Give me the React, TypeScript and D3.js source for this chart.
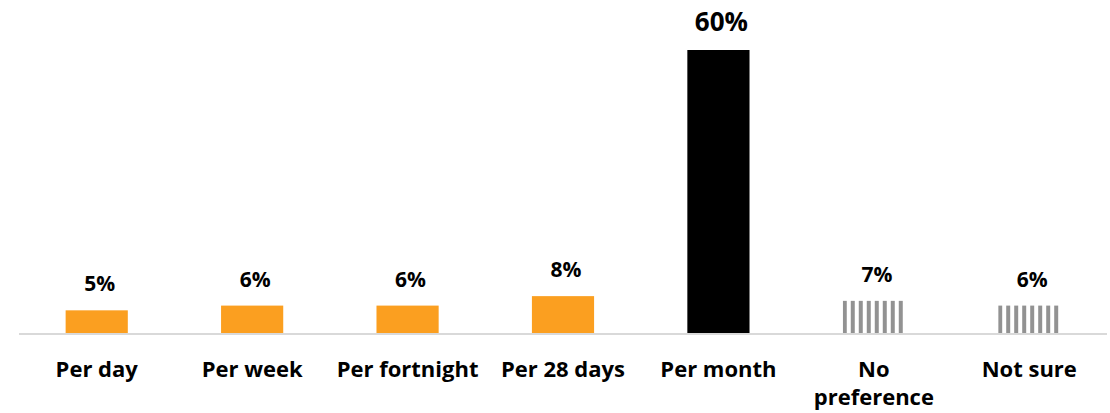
import React from "react";
import * as d3 from "d3";

const categories = ["Per day", "Per week", "Per fortnight", "Per 28 days", "Per month", "No\npreference", "Not sure"];
const values = [5, 6, 6, 8, 60, 7, 6];
const kinds = ["orange", "orange", "orange", "orange", "black", "striped", "striped"];

const W = 1110;
const H = 413;
const FONT = "'Open Sans', Lato, sans-serif";

export default function App() {
  const x = d3.scaleBand<string>().domain(categories).range([19, 1107]).paddingInner(0.6).paddingOuter(0.3);
  const y = d3.scaleLinear().domain([0, 60]).range([334, 50]);
  const bw = x.bandwidth();

  return (
    <svg width={W} height={H} style={{ position: "absolute", left: 0, top: 0, background: "#fff" }}>
      <defs>
        {categories.map((c, i) =>
          kinds[i] === "striped" ? (
            <pattern key={c} id={`stripe${i}`} patternUnits="userSpaceOnUse" x={x(c)} y={0} width={8} height={8}>
              <rect x={0} y={0} width={4} height={8} fill="#929292" />
            </pattern>
          ) : null
        )}
      </defs>
      {categories.map((c, i) => {
        const x0 = x(c) as number;
        const fill = kinds[i] === "orange" ? "#FB9F20" : kinds[i] === "black" ? "#000" : `url(#stripe${i})`;
        return <rect key={c} x={x0} y={y(values[i])} width={bw} height={y(0) - y(values[i])} fill={fill} />;
      })}
      <line x1={19} x2={1107} y1={334} y2={334} stroke="#d9d9d9" strokeWidth={2} />
      {categories.map((c, i) => {
        const cx = (x(c) as number) + bw / 2 + 3;
        const big = values[i] === d3.max(values);
        return (
          <text
            key={c}
            x={cx}
            y={y(values[i]) - 19}
            textAnchor="middle"
            fontFamily={FONT}
            fontWeight="bold"
            fontSize={big ? 26 : 21}
            fill="#000"
          >
            {values[i]}%
          </text>
        );
      })}
      {categories.map((c) => {
        const cx = (x(c) as number) + bw / 2;
        const lines = c.split("\n");
        return (
          <text key={c} x={cx} y={377} textAnchor="middle" fontFamily={FONT} fontWeight="bold" fontSize={22} fill="#000">
            {lines.map((l, j) => (
              <tspan key={j} x={cx} dy={j === 0 ? 0 : 28}>
                {l}
              </tspan>
            ))}
          </text>
        );
      })}
    </svg>
  );
}
